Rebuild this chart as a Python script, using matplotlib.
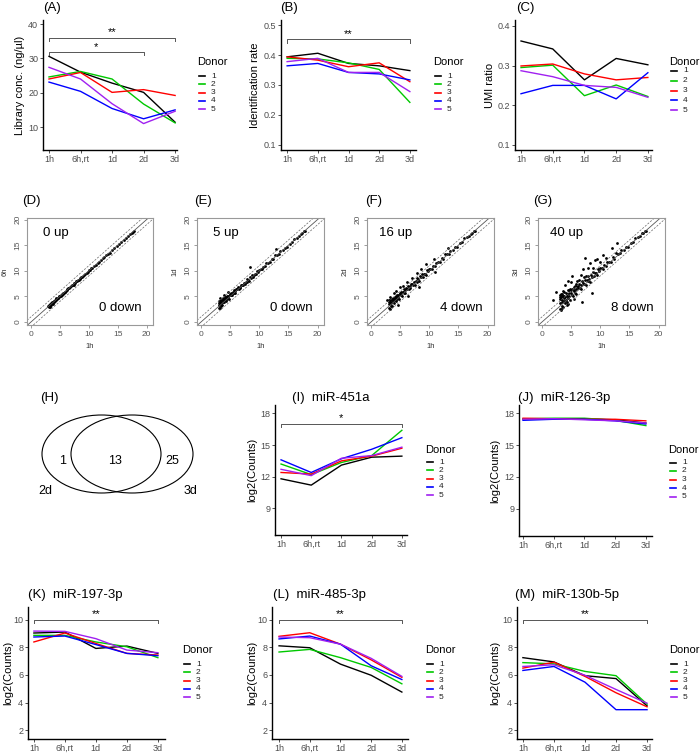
import matplotlib
matplotlib.use('Agg')
import matplotlib.pyplot as plt
from matplotlib.lines import Line2D
from matplotlib.patches import Ellipse
import numpy as np

plt.rcParams['font.family'] = ['Liberation Sans', 'DejaVu Sans']

# ---- data ----
timepoints = ["1h", "6h,rt", "1d", "2d", "3d"]
donors = ["1", "2", "3", "4", "5"]
donor_colors = ['black', '#00C800', '#FF0000', '#0000FF', '#A020F0']

lib_conc = [[30.6, 26.0, 22.8, 20.1, 11.4],
            [24.6, 26.2, 24.0, 16.7, 11.2],
            [24.0, 25.9, 20.1, 20.9, 19.2],
            [23.1, 20.4, 15.4, 12.4, 15.0],
            [27.4, 24.0, 16.8, 11.0, 14.6]]

id_rate = [[0.394, 0.406, 0.372, 0.364, 0.348],
           [0.389, 0.387, 0.374, 0.352, 0.242],
           [0.394, 0.383, 0.361, 0.374, 0.311],
           [0.364, 0.372, 0.342, 0.337, 0.317],
           [0.378, 0.389, 0.342, 0.342, 0.278]]

umi_ratio = [[0.362, 0.342, 0.264, 0.318, 0.302],
             [0.295, 0.301, 0.224, 0.251, 0.222],
             [0.299, 0.304, 0.279, 0.264, 0.270],
             [0.229, 0.250, 0.250, 0.216, 0.282],
             [0.287, 0.272, 0.250, 0.245, 0.220]]

mir451a = [[11.8, 11.2, 13.1, 13.85, 13.95],
           [13.2, 12.2, 13.35, 14.0, 16.4],
           [12.4, 12.25, 13.5, 13.95, 14.7],
           [13.6, 12.4, 13.7, 14.6, 15.7],
           [12.7, 12.1, 13.75, 14.0, 14.8]]

mir126 = [[17.45, 17.5, 17.5, 17.4, 17.1],
          [17.5, 17.55, 17.55, 17.35, 16.85],
          [17.55, 17.5, 17.45, 17.45, 17.3],
          [17.35, 17.45, 17.45, 17.3, 17.0],
          [17.45, 17.5, 17.4, 17.3, 17.1]]

mir197 = [[9.05, 9.12, 7.93, 8.1, 7.57],
          [8.88, 8.88, 8.4, 8.05, 7.26],
          [8.4, 9.05, 8.29, 7.57, 7.45],
          [8.76, 8.83, 8.21, 7.57, 7.4],
          [9.19, 9.17, 8.64, 7.81, 7.62]]

mir485 = [[8.12, 7.98, 6.79, 5.98, 4.76],
          [7.67, 7.86, 7.26, 6.55, 5.36],
          [8.81, 9.07, 8.24, 7.1, 5.83],
          [8.62, 8.83, 8.24, 6.67, 5.67],
          [8.76, 8.71, 8.24, 7.21, 5.9]]

mir130b = [[7.26, 6.95, 5.95, 5.74, 3.76],
           [6.9, 6.81, 6.26, 5.95, 3.88],
           [6.5, 6.93, 5.9, 4.71, 3.69],
           [6.33, 6.62, 5.48, 3.48, 3.48],
           [6.62, 6.74, 5.98, 4.95, 3.95]]

# scatter: log2 counts at 1h (shared x) and deviation of later time point
x_1h = [3.0, 3.05, 3.1, 3.15, 3.2, 3.25, 3.3, 3.35, 3.4, 3.45,
        3.5, 3.55, 3.6, 3.7, 3.75, 3.8, 3.9, 4.0, 4.05, 4.1,
        4.2, 4.3, 4.35, 4.4, 4.5, 4.6, 4.7, 4.8, 4.9, 5.0,
        5.1, 5.2, 5.3, 5.4, 5.5, 5.6, 5.7, 5.8, 5.9, 6.0,
        6.15, 6.3, 6.45, 6.6, 6.75, 6.9, 7.05, 7.2, 7.35, 7.5,
        7.65, 7.8, 7.95, 8.1, 8.25, 8.4, 8.55, 8.7, 8.85, 9.0,
        9.2, 9.4, 9.6, 9.8, 10.0, 10.2, 10.4, 10.6, 10.9, 11.2,
        11.5, 11.8, 12.1, 12.4, 12.7, 13.0, 13.3, 13.6, 14.0, 14.4,
        14.8, 15.2, 15.6, 16.0, 16.4, 16.8, 17.1, 17.4, 17.6, 17.8]

dev_6h = [0.2, -0.1, 0.3, 0.0, -0.2, 0.1, 0.25, -0.15, 0.05, 0.3,
          -0.1, 0.2, 0.0, 0.15, -0.2, 0.1, 0.2, -0.05, 0.1, 0.0,
          0.15, -0.1, 0.05, 0.2, 0.0, 0.1, -0.1, 0.05, 0.1, 0.0,
          -0.05, 0.1, 0.0, 0.05, -0.1, 0.1, 0.0, 0.05, -0.05, 0.1,
          0.0, 0.05, 0.1, -0.05, 0.0, 0.05, 0.1, 0.0, -0.05, 0.05,
          0.0, 0.1, 0.05, 0.0, -0.05, 0.05, 0.0, 0.1, 0.0, 0.05,
          0.0, 0.05, -0.05, 0.0, 0.1, 0.0, 0.05, 0.0, -0.05, 0.0,
          0.05, 0.0, -0.1, 0.05, 0.0, 0.0, 0.05, -0.05, 0.0, 0.05,
          0.0, 0.0, -0.05, 0.0, 0.05, 0.0, 0.0, 0.0, 0.05, 0.0]

dev_1d = [0.6, -0.3, 0.9, 0.2, -0.4, 0.5, 0.8, -0.2, 0.3, 0.9,
          0.1, 0.7, -0.3, 0.5, 0.2, 0.9, -0.1, 0.4, 0.8, 0.1,
          0.6, -0.2, 0.3, 0.7, 0.0, 0.5, 0.2, -0.3, 0.6, 0.3,
          0.1, 0.5, -0.1, 0.4, 0.2, 0.6, 0.0, 0.3, -0.2, 0.4,
          0.2, 0.5, 0.0, 0.3, -0.1, 0.4, 0.2, 0.1, 0.3, -0.1,
          0.2, 0.0, 0.4, 0.1, -0.2, 0.3, 0.1, 0.5, 0.0, 0.2,
          0.1, -0.1, 0.3, 0.0, 0.2, 0.1, -0.1, 0.2, 0.0, 0.3,
          0.1, 0.0, 0.2, -0.1, 0.4, 0.1, 0.0, 0.2, 0.0, 0.1,
          -0.1, 0.1, 0.0, 0.2, 0.0, -0.1, 0.1, 0.0, 0.1, 0.0]

dev_2d = [0.9, -0.4, 1.2, 0.3, -0.6, 0.7, 0.9, -0.3, 0.4, 1.1,
          0.2, 0.9, -0.5, 0.6, 0.3, 0.8, -0.2, 0.5, 0.9, 0.1,
          0.8, -0.3, 0.4, 0.9, 0.0, 0.6, 0.2, -0.4, 0.8, 0.4,
          0.1, 0.7, -0.2, 0.5, 0.3, 0.8, -0.1, 0.4, -0.3, 0.6,
          0.3, 0.7, 0.0, 0.4, -0.2, 0.6, 0.3, 0.1, 0.5, -0.2,
          0.3, 0.0, 0.6, 0.2, -0.3, 0.5, 0.2, 0.7, 0.0, 0.4,
          0.2, -0.2, 0.5, 0.1, 0.4, 0.2, -0.1, 0.3, 0.0, 0.4,
          0.2, 0.0, 0.3, -0.1, 0.5, 0.2, 0.0, 0.3, 0.1, 0.2,
          -0.1, 0.2, 0.0, 0.3, 0.1, -0.1, 0.1, 0.0, 0.1, 0.0]

dev_3d = [1.4, -0.5, 1.8, 0.5, -0.8, 1.2, 2.2, -0.3, 0.8, 1.6,
          0.3, 1.5, -0.6, 1.0, 0.4, 2.0, -0.2, 0.9, 1.6, 0.2,
          1.3, -0.4, 0.7, 1.9, 0.1, 1.1, 0.4, -0.6, 1.4, 0.6,
          0.2, 1.2, -0.3, 0.8, 0.5, 1.5, -0.1, 0.7, -0.4, 1.0,
          0.5, 1.2, 0.1, 0.7, -0.3, 1.0, 0.5, 0.2, 0.9, -0.3,
          0.5, 0.1, 1.0, 0.3, -0.4, 0.8, 0.3, 1.1, 0.1, 0.6,
          0.3, -0.2, 0.8, 0.2, 0.6, 0.3, -0.1, 0.5, 0.1, 0.6,
          0.3, 0.0, 0.5, -0.1, 0.7, 0.3, 0.1, 0.4, 0.1, 0.3,
          -0.1, 0.3, 0.0, 0.4, 0.1, -0.1, 0.2, 0.0, 0.1, 0.0]

# off-diagonal points (x at 1h, y at later time point)
out_1d_x = [3.3, 3.9, 4.6, 8.4, 12.9]
out_1d_y = [4.6, 5.3, 5.9, 10.8, 14.3]
out_2d_x = [2.8, 3.2, 4.0, 4.3, 5.0, 5.5, 6.2, 7.0, 7.8, 8.5, 9.5, 10.8, 13.2, 8.3, 4.6, 6.4, 11.0]
out_2d_y = [4.2, 4.9, 5.6, 6.0, 6.8, 7.0, 7.8, 8.6, 9.6, 10.3, 11.3, 12.2, 14.5, 6.8, 3.4, 5.0, 9.8]
out_3d_x = [1.8, 2.4, 3.0, 3.6, 4.0, 4.4, 4.8, 5.2, 5.8, 6.4, 7.0, 7.4, 7.6, 8.2, 9.0,
            10.5, 12.0, 12.9, 6.8, 8.6, 4.2,
            3.2, 3.4, 3.8, 4.6, 5.0, 5.5, 6.0, 6.2, 6.6, 7.2, 7.8, 8.8, 9.4, 10.0,
            11.0, 5.4, 3.5, 4.5]
out_3d_y = [4.2, 5.8, 5.2, 6.0, 7.2, 8.0, 6.5, 9.0, 7.5, 8.2, 10.4, 12.5, 9.0, 11.5, 12.0,
            13.0, 14.5, 15.5, 3.8, 5.6, 3.4,
            4.8, 5.5, 5.0, 6.2, 7.8, 6.8, 8.0, 7.0, 9.2, 8.8, 10.6, 10.5, 12.2, 11.8,
            12.4, 4.4, 2.8, 3.5]

up_counts = [0, 5, 16, 40]
down_counts = [0, 0, 4, 8]

venn_sets = ["2d", "3d"]
venn_counts = [1, 13, 25]

# ---- figure ----
W, H = 700, 753
fig = plt.figure(figsize=(W / 100, H / 100), dpi=100)


def rect(l, t, r, b):
    return [l / W, 1 - b / H, (r - l) / W, (b - t) / H]


def ftext(px, py, s, **kw):
    fig.text(px / W, 1 - py / H, s, **kw)


def donor_legend(x, y_title, y_first, step):
    ftext(x, y_title, 'Donor', fontsize=8, ha='left', va='center')
    for i, (d, c) in enumerate(zip(donors, donor_colors)):
        yy = 1 - (y_first + i * step) / H
        fig.add_artist(Line2D([(x + 2) / W, (x + 8) / W], [yy, yy], color=c, lw=1.2))
        fig.text((x + 14) / W, yy, d, fontsize=6, ha='left', va='center', color='#222222')


def line_panel(box, series, xlim, ylim, yticks, ytl, ylabel, ylab_x, brackets=()):
    ax = fig.add_axes(rect(*box))
    for vals, col in zip(series, donor_colors):
        ax.plot(range(5), vals, color=col, lw=1.0)
    ax.set_xlim(xlim)
    ax.set_ylim(ylim)
    ax.set_xticks(range(5))
    ax.set_xticklabels(timepoints)
    ax.set_yticks(yticks)
    ax.set_yticklabels(ytl)
    for s in ['top', 'right']:
        ax.spines[s].set_visible(False)
    for s in ['left', 'bottom']:
        ax.spines[s].set_linewidth(1.0)
    ax.tick_params(length=2.2, width=0.6, color='#333333', labelsize=6.5,
                   labelcolor='#4D4D4D', pad=1.2)
    ax.patch.set_alpha(0)
    rng = ylim[1] - ylim[0]
    for x0, x1, yb, star in brackets:
        ax.plot([x0, x0, x1, x1], [yb - 0.025 * rng, yb, yb, yb - 0.025 * rng],
                color='#555555', lw=0.7)
        ax.text((x0 + x1) / 2, yb + 0.005 * rng, star, ha='center', va='bottom', fontsize=8)
    ftext(ylab_x, (box[1] + box[3]) / 2, ylabel, rotation=90, fontsize=8,
          ha='center', va='center')
    return ax


def scatter_panel(box, xs, ys, ylabel, up, down):
    ax = fig.add_axes(rect(*box))
    ax.scatter(xs, ys, s=4, c='black', linewidths=0)
    ax.axline((0, 0), slope=1, color='#555555', lw=0.6)
    ax.axline((0, 1), slope=1, color='#666666', lw=0.5, ls=(0, (3, 2)))
    ax.axline((0, -1), slope=1, color='#666666', lw=0.5, ls=(0, (3, 2)))
    ax.set_xlim(-0.7, 21.1)
    ax.set_ylim(-0.6, 20.3)
    ax.set_xticks([0, 5, 10, 15, 20])
    ax.set_yticks([0, 5, 10, 15, 20])
    ax.set_yticklabels(['0', '5', '10', '15', '20'], rotation=90, va='center')
    for s in ax.spines.values():
        s.set_color('#999999')
        s.set_linewidth(0.8)
    ax.tick_params(length=2.5, width=0.5, color='#777777', labelsize=6,
                   labelcolor='#555555', pad=1.5)
    ax.text(4.2, 17.3, f'{up} up', fontsize=9.5, ha='center', va='center')
    ax.text(15.5, 2.8, f'{down} down', fontsize=9.5, ha='center', va='center')
    ftext((box[0] + box[2]) / 2, 347, '1h', fontsize=5.5, ha='center', va='center', color='#333333')
    ftext(box[0] - 22, (box[1] + box[3]) / 2, ylabel, fontsize=5.5, rotation=90,
          ha='center', va='center', color='#333333')
    return ax


# row 1
ftext(43, 8, '(A)', fontsize=9.5, va='center')
line_panel((43, 20, 177, 150), lib_conc, (-0.19, 4.06), (3.3, 41.2), [10, 20, 30, 40],
           ['10', '20', '30', '40'], 'Library conc. (ng/µl)', 20,
           brackets=[(0, 4, 35.9, '**'), (0, 3, 31.8, '*')])
donor_legend(197, 62, 76, 8.3)

ftext(280, 8, '(B)', fontsize=9.5, va='center')
line_panel((281, 20, 416, 150), id_rate, (-0.2, 4.2), (0.083, 0.517),
           [0.1, 0.2, 0.3, 0.4, 0.5], ['0.1', '0.2', '0.3', '0.4', '0.5'],
           'Identification rate', 255, brackets=[(0, 4, 0.452, '**')])
donor_legend(433, 62, 76, 8.3)

ftext(516, 8, '(C)', fontsize=9.5, va='center')
line_panel((515, 20, 652, 150), umi_ratio, (-0.19, 4.13), (0.087, 0.415),
           [0.1, 0.2, 0.3, 0.4], ['0.1', '0.2', '0.3', '0.4'], 'UMI ratio', 490)
donor_legend(669, 62, 71, 9.8)

# row 2: scatter plots
x_arr = np.array(x_1h)
scatter_specs = [
    ((27, 218, 153, 325), x_1h, list(x_arr + np.array(dev_6h)), '6h', '(D)', 22),
    ((197, 218, 324, 325), x_1h + out_1d_x, list(x_arr + np.array(dev_1d)) + out_1d_y, '1d', '(E)', 194),
    ((367, 218, 494, 325), x_1h + out_2d_x, list(x_arr + np.array(dev_2d)) + out_2d_y, '2d', '(F)', 365),
    ((538, 218, 665, 325), x_1h + out_3d_x, list(x_arr + np.array(dev_3d)) + out_3d_y, '3d', '(G)', 533),
]
for (box, xs, ys, lab, title, tx), up, down in zip(scatter_specs, up_counts, down_counts):
    scatter_panel(box, xs, ys, lab, up, down)
    ftext(tx, 201, title, fontsize=9.5, va='center')

# row 3: Venn
ftext(40, 398, '(H)', fontsize=9.5, va='center')
axv = fig.add_axes(rect(30, 405, 210, 505))
axv.set_xlim(30, 210)
axv.set_ylim(505, 405)
axv.axis('off')
axv.add_patch(Ellipse((101.5, 454), 119, 78, fill=False, lw=0.8, ec='black'))
axv.add_patch(Ellipse((132, 454), 122, 78, fill=False, lw=0.8, ec='black'))
axv.text(63, 461, str(venn_counts[0]), fontsize=9, ha='center', va='center')
axv.text(115, 461, str(venn_counts[1]), fontsize=9, ha='center', va='center')
axv.text(172, 461, str(venn_counts[2]), fontsize=9, ha='center', va='center')
axv.text(45, 491, venn_sets[0], fontsize=9, ha='center', va='center')
axv.text(190, 491, venn_sets[1], fontsize=9, ha='center', va='center')

ftext(292, 398, '(I)  miR-451a', fontsize=9.5, va='center')
line_panel((275, 405, 407, 535), mir451a, (-0.2, 4.17), (6.47, 18.8), [9, 12, 15, 18],
           ['9', '12', '15', '18'], 'log2(Counts)', 252, brackets=[(0, 4, 17.0, '*')])
donor_legend(425, 450, 462, 8.3)

ftext(518, 398, '(J)  miR-126-3p', fontsize=9.5, va='center')
line_panel((519, 405, 652, 536), mir126, (-0.13, 4.2), (6.4, 18.8), [9, 12, 15, 18],
           ['9', '12', '15', '18'], 'log2(Counts)', 495)
donor_legend(668, 450, 462.5, 8.5)

# row 4
mir_yt = [2, 4, 6, 8, 10]
mir_ytl = ['2', '4', '6', '8', '10']
ftext(28, 595, '(K)  miR-197-3p', fontsize=9.5, va='center')
line_panel((28, 607, 165, 739), mir197, (-0.19, 4.23), (1.35, 10.94), mir_yt, mir_ytl,
           'log2(Counts)', 8, brackets=[(0, 4, 10.0, '**')])
donor_legend(182, 650, 664, 8.3)

ftext(273, 595, '(L)  miR-485-3p', fontsize=9.5, va='center')
line_panel((272, 607, 408, 739), mir485, (-0.23, 4.2), (1.35, 10.94), mir_yt, mir_ytl,
           'log2(Counts)', 252, brackets=[(0, 4, 10.0, '**')])
donor_legend(425, 650, 664, 8.3)

ftext(515, 595, '(M)  miR-130b-5p', fontsize=9.5, va='center')
line_panel((517, 607, 652, 739), mir130b, (-0.19, 4.16), (1.35, 10.94), mir_yt, mir_ytl,
           'log2(Counts)', 495, brackets=[(0, 4, 10.0, '**')])
donor_legend(669, 650, 664, 8.3)

fig.savefig('out.png', dpi=100, facecolor='white')
